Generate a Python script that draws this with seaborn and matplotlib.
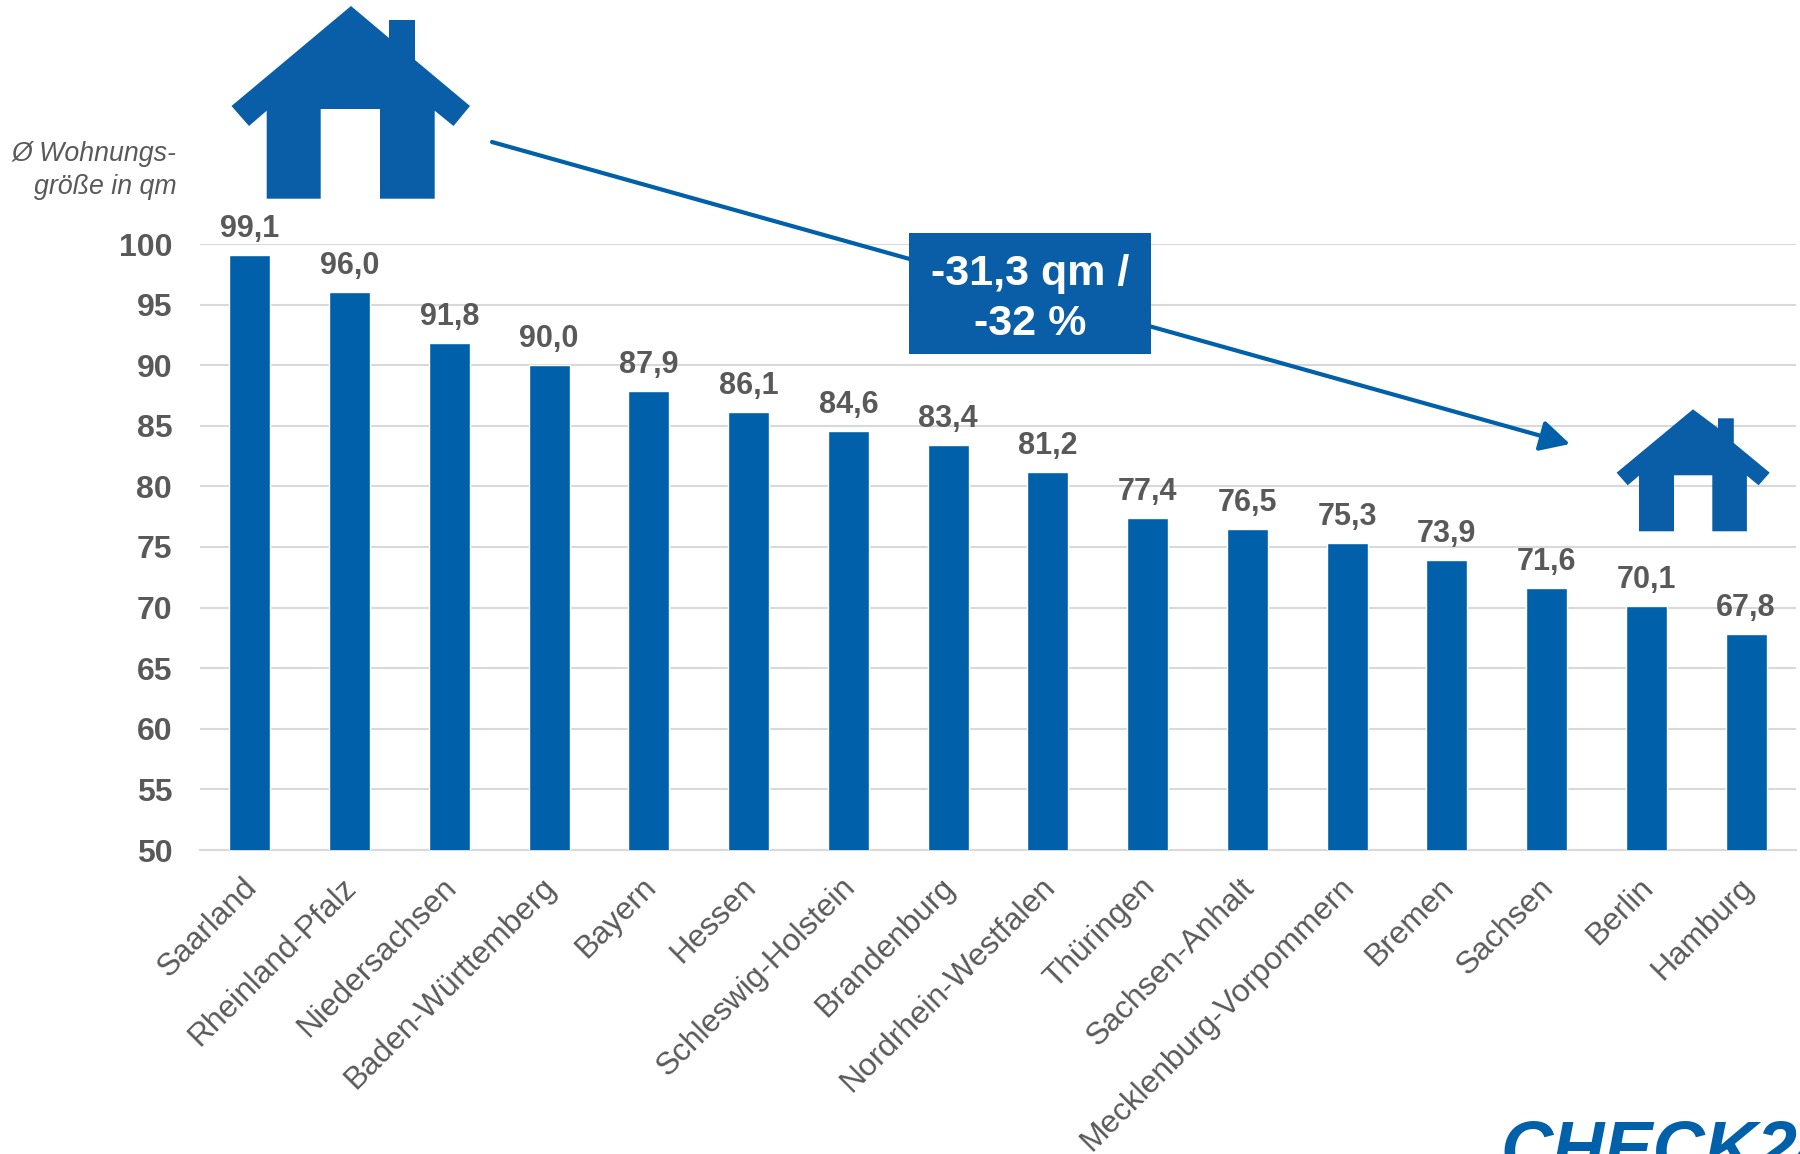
import seaborn as sns
import matplotlib.pyplot as plt
from matplotlib.patches import Polygon, Rectangle
from matplotlib.transforms import ScaledTranslation

# Durchschnittliche Wohnungsgroesse je Bundesland
states = ["Saarland", "Rheinland-Pfalz", "Niedersachsen", "Baden-Württemberg", "Bayern", "Hessen",
          "Schleswig-Holstein", "Brandenburg", "Nordrhein-Westfalen", "Thüringen", "Sachsen-Anhalt",
          "Mecklenburg-Vorpommern", "Bremen", "Sachsen", "Berlin", "Hamburg"]
sizes = [99.1, 96.0, 91.8, 90.0, 87.9, 86.1, 84.6, 83.4, 81.2, 77.4, 76.5, 75.3, 73.9, 71.6, 70.1, 67.8]
y_ticks = list(range(50, 101, 5))

BLUE = "#0060a9"
ICON = "#0a5ea8"
GREY = "#595959"
W, H = 1800, 1154

sns.set_theme(style="white")
plt.rcParams['font.family'] = ['Liberation Sans', 'DejaVu Sans']

fig = plt.figure(figsize=(W / 100, H / 100), dpi=100)
ax = fig.add_axes([200 / W, 1 - 850 / H, 1596 / W, 606 / H])

sns.barplot(x=states, y=sizes, color=BLUE, saturation=1, width=0.41, ax=ax, zorder=3)
ax.set_xlim(-0.5, 15.5)
ax.set_ylim(50, 100)
ax.set_yticks(y_ticks)
ax.grid(axis='y', color='#d9d9d9', lw=1.5, zorder=0)
ax.set_axisbelow(True)
sns.despine(ax=ax, left=True, top=True, right=True)
ax.spines['bottom'].set_color('#d9d9d9')
ax.spines['bottom'].set_linewidth(1.5)
ax.tick_params(axis='y', length=0, pad=20, labelsize=23, labelcolor=GREY)
ax.tick_params(axis='x', length=0, pad=16, labelsize=22.8, labelcolor=GREY)
for lab in ax.get_yticklabels():
    lab.set_fontweight('bold')
nudge = ScaledTranslation(-8 / 100, 0, fig.dpi_scale_trans)
for lab in ax.get_xticklabels():
    lab.set_rotation(45)
    lab.set_ha('right')
    lab.set_rotation_mode('anchor')
    lab.set_transform(lab.get_transform() + nudge)

ax.bar_label(ax.containers[0], labels=[f"{v:.1f}".replace('.', ',') for v in sizes], padding=8,
             fontsize=22, fontweight='bold', color=GREY, clip_on=False)

# Overlay in Pixelkoordinaten fuer Haeuser, Pfeil, Box
over = fig.add_axes([0, 0, 1, 1], facecolor='none')
over.set_xlim(0, W)
over.set_ylim(H, 0)
over.axis('off')

big_house = [(231.5, 106), (351, 6), (389, 38), (389, 20), (415, 20), (415, 60), (470, 106), (453.5, 126),
             (434.7, 110.7), (434.7, 198.7), (380, 198.7), (380, 109), (320.7, 109), (320.7, 198.7),
             (266.7, 198.7), (266.7, 110.7), (249, 126)]
small_house = [(1616.6, 472.7), (1693, 409.3), (1718, 428), (1718, 418.3), (1733.8, 418.3), (1733.8, 443),
               (1769.7, 472.7), (1758.6, 485.3), (1746.9, 475.7), (1746.9, 531.3), (1712.3, 531.3),
               (1712.3, 475.3), (1674, 475.3), (1674, 531.3), (1639, 531.3), (1639, 475.7), (1627.7, 485.3)]
over.add_patch(Polygon(big_house, closed=True, fc=ICON, ec='none'))
over.add_patch(Polygon(small_house, closed=True, fc=ICON, ec='none'))

over.annotate("", xy=(1570, 444), xytext=(492, 142),
              arrowprops=dict(arrowstyle='-|>,head_length=0.9,head_width=0.47', color=BLUE, lw=3,
                              mutation_scale=20, shrinkA=0, shrinkB=0))
over.add_patch(Rectangle((909, 233), 242, 121, fc=ICON, ec='none', zorder=4))
over.text(1030, 299, "-31,3 qm /\n-32 %", color='white', fontsize=31, fontweight='bold',
          ha='center', va='center', linespacing=1.32, zorder=5)

over.text(177, 154, "Ø Wohnungs-", color=GREY, fontsize=19.3, style='italic', ha='right', va='center')
over.text(177, 187, "größe in qm", color=GREY, fontsize=19.3, style='italic', ha='right', va='center')

# Logo wird unten vom Bildrand abgeschnitten
over.text(1500, 1172, "CHECK24", color=BLUE, fontsize=52, fontweight='bold', style='italic',
          ha='left', va='baseline', clip_on=True)

fig.savefig("out.png", dpi=100)
